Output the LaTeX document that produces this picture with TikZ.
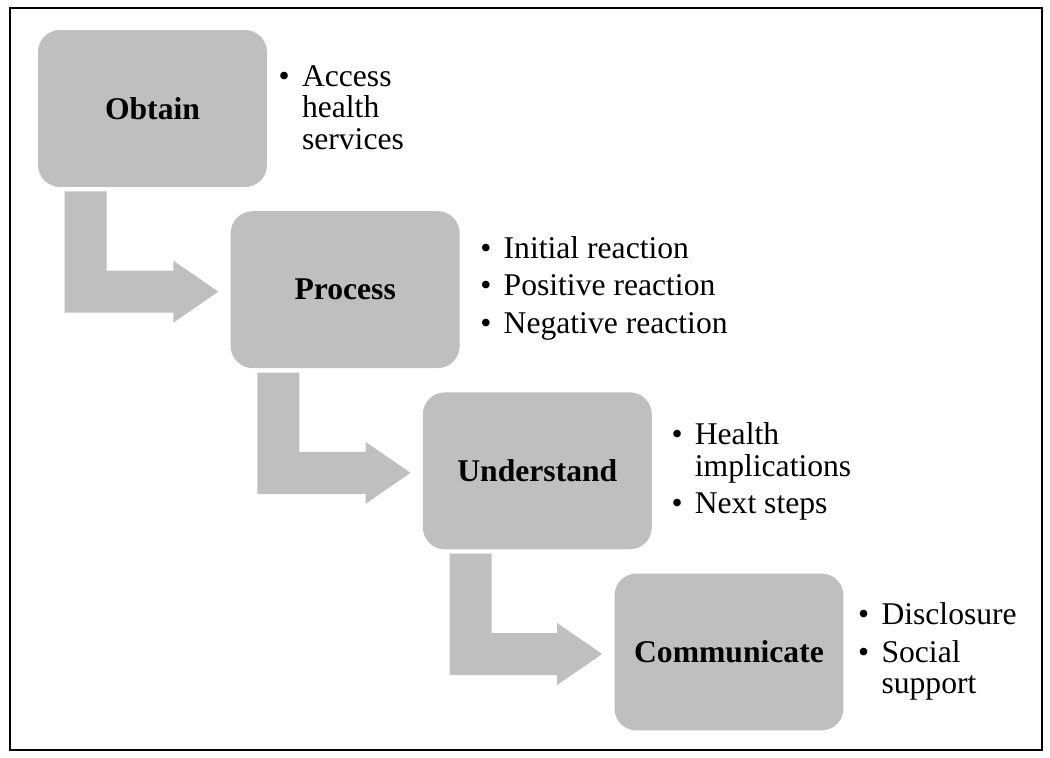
\documentclass[tikz,border=0pt]{standalone}
\usepackage{fontspec}
\setmainfont{Liberation Serif}
\usetikzlibrary{positioning,calc}
\definecolor{stagegray}{HTML}{BFBFBF}
\tikzset{
	stage/.style={fill=stagegray,rounded corners=0.44cm,minimum width=4.58cm,minimum height=3.14cm,inner sep=0pt,font=\fontsize{18pt}{18pt}\selectfont\bfseries},
	points/.style={inner sep=0pt,anchor=west,font=\fontsize{18pt}{18pt}\selectfont},
	bentarrow/.style={fill=stagegray}
}
\newcommand{\pts}[1]{\renewcommand{\arraystretch}{1}\begin{tabular}{@{}l@{\hspace{7pt}}l@{}}#1\end{tabular}}
\begin{document}
\begin{tikzpicture}[x=0.02cm,y=-0.02cm]
	\useasboundingbox (0,0) rectangle (1050,757);
	\draw[line width=1.1pt] (10,8) rectangle (1042,750);
	\node[stage] at (152.5,108.5) (obtain) {Obtain};
	\node[stage,below right=0.47cm and -0.74cm of obtain] (process) {Process};
	\node[stage,below right=0.47cm and -0.75cm of process] (understand) {Understand};
	\node[stage,below right=0.47cm and -0.76cm of understand] (communicate) {Communicate};
	\node[points,right=0.22cm of obtain,yshift=-0.06cm] (obtainpts) {\pts{\textbullet & Access\\ & health\\ & services}};
	\node[points,right=0.4cm of process] (processpts) {\pts{\textbullet & Initial reaction\\[3.3pt] \textbullet & Positive reaction\\[3.3pt] \textbullet & Negative reaction}};
	\node[points,right=0.38cm of understand,yshift=-0.04cm] (understandpts) {\pts{\textbullet & Health\\ & implications\\[3.3pt] \textbullet & Next steps}};
	\node[points,right=0.28cm of communicate,yshift=-0.02cm] (communicatepts) {\pts{\textbullet & Disclosure\\[3.3pt] \textbullet & Social\\ & support}};
	% bent arrows between the stages
	\foreach \a/\b in {obtain/process,process/understand,understand/communicate}{
		\coordinate (s) at ($(\a.south west)+(27,4)$);
		\coordinate (t) at ($(\b.west)+(-12,2)$);
		\coordinate (h) at ($(t)+(-45,0)$);
		\fill[bentarrow] (s) -- ++(42,0) |- ($(h)+(0,-21)$) -- ++(0,-10) -- (t) -- ($(h)+(0,31)$) -- ++(0,-10) -| (s) -- cycle;
	}
\end{tikzpicture}
\end{document}
